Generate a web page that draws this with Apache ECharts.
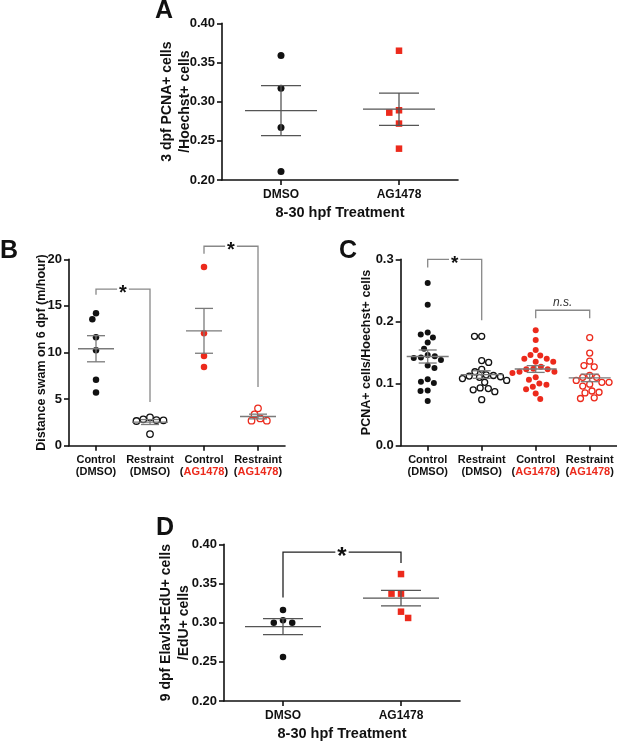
<!DOCTYPE html>
<html lang="en">
<head>
<meta charset="UTF-8">
<title>Swim distance and proliferation</title>
<script src="https://cdn.jsdelivr.net/npm/echarts@6.0.0/dist/echarts.min.js"></script>
<style>
  html, body { margin: 0; padding: 0; background: #fff; }
  #chart { width: 617px; height: 743px; }
</style>
</head>
<body>
<div id="chart"></div>
<script>
// panel A: 3 dpf PCNA+/Hoechst+
var aCats = ['DMSO', 'AG1478'];
var aDmso = [0.359, 0.317, 0.267, 0.211];
var aAg = [0.365, 0.286, 0.289, 0.272, 0.240];

// panel B: distance swam on 6 dpf
var bCats = ['Control (DMSO)', 'Restraint (DMSO)', 'Control (AG1478)', 'Restraint (AG1478)'];
var bCtrlDmso = [14.2, 13.56, 11.63, 10.23, 7.08, 5.72];
var bResDmso = [2.83, 2.72, 2.65, 2.75, 3.04, 1.25];
var bCtrlAg = [19.18, 12.06, 9.62, 8.44];
var bResAg = [2.93, 2.68, 4.01, 2.68, 3.36];
var bBrackets = [[0, 1, 16.8, 16.2, 4.7, '*'], [2, 3, 21.4, 20.6, 6.3, '*']];

// panel C: PCNA+/Hoechst+
var cCats = bCats;
var cCtrlDmso = [0.262, 0.227, 0.182, 0.174, 0.179, 0.166, 0.156, 0.144, 0.141, 0.142,
                 0.138, 0.146, 0.129, 0.125, 0.103, 0.107, 0.101, 0.089, 0.088, 0.072];
var cResDmso = [0.176, 0.176, 0.134, 0.137, 0.123, 0.119, 0.112, 0.110, 0.108, 0.111,
                0.113, 0.114, 0.102, 0.105, 0.092, 0.090, 0.093, 0.087, 0.074];
var cCtrlAg = [0.186, 0.170, 0.154, 0.145, 0.146, 0.140, 0.135, 0.135, 0.140, 0.127, 0.124, 0.123,
               0.119, 0.117, 0.119, 0.123, 0.110, 0.106, 0.100, 0.095, 0.098, 0.091, 0.084, 0.075];
var cResAg = [0.174, 0.149, 0.136, 0.127, 0.129, 0.110, 0.113, 0.110, 0.102,
              0.099, 0.096, 0.102, 0.105, 0.088, 0.085, 0.086, 0.076, 0.077];
var cBrackets = [[0, 1, 0.300, 0.287, 0.202, '*'], [2, 3, 0.218, 0.205, 0.205, 'n.s.']];

// panel D: 9 dpf Elavl3+EdU+/EdU+
var dCats = aCats;
var dDmso = [0.316, 0.300, 0.300, 0.303, 0.256];
var dAg = [0.362, 0.337, 0.337, 0.306, 0.314];
var dBrackets = [[0, 1, 0.390, 0.332, 0.376, '*']];

var FONT = '"Liberation Sans", Arial, Helvetica, sans-serif';
var INK = '#111';
var RED = '#ec2a1c';

function mean(v) {
    var s = 0;
    for (var i = 0; i < v.length; i++) s += v[i];
    return s / v.length;
}
function sem(v) {
    var m = mean(v), s = 0;
    for (var i = 0; i < v.length; i++) s += (v[i] - m) * (v[i] - m);
    return Math.sqrt(s / (v.length - 1)) / Math.sqrt(v.length);
}

// one entry per group of dots
var groups = [
    {g: 0, cat: 0, vals: aDmso, symbol: 'circle', size: 7, fill: INK, stroke: INK},
    {g: 0, cat: 1, vals: aAg, symbol: 'rect', size: 6.5, fill: RED, stroke: RED},
    {g: 1, cat: 0, vals: bCtrlDmso, symbol: 'circle', size: 6.5, fill: INK, stroke: INK},
    {g: 1, cat: 1, vals: bResDmso, symbol: 'circle', size: 6.5, fill: '#fff', stroke: INK, open: true},
    {g: 1, cat: 2, vals: bCtrlAg, symbol: 'circle', size: 6.5, fill: RED, stroke: RED},
    {g: 1, cat: 3, vals: bResAg, symbol: 'circle', size: 6.5, fill: '#fff', stroke: RED, open: true},
    {g: 2, cat: 0, vals: cCtrlDmso, symbol: 'circle', size: 6, fill: INK, stroke: INK},
    {g: 2, cat: 1, vals: cResDmso, symbol: 'circle', size: 6, fill: '#fff', stroke: INK, open: true},
    {g: 2, cat: 2, vals: cCtrlAg, symbol: 'circle', size: 6, fill: RED, stroke: RED},
    {g: 2, cat: 3, vals: cResAg, symbol: 'circle', size: 6, fill: '#fff', stroke: RED, open: true},
    {g: 3, cat: 0, vals: dDmso, symbol: 'circle', size: 6.5, fill: INK, stroke: INK},
    {g: 3, cat: 1, vals: dAg, symbol: 'rect', size: 6.5, fill: RED, stroke: RED}
];

// per panel: swarm spacing, mean bar width, SEM cap width, bar colour
var panelStyle = [
    {gap: 10, meanW: 72, capW: 40, line: '#555'},
    {gap: 7, meanW: 36, capW: 18, line: '#7a7a7a'},
    {gap: 7.2, meanW: 42, capW: 18, line: '#7a7a7a'},
    {gap: 9.5, meanW: 76, capW: 40, line: '#555'}
];

var grids = [
    {left: 222, top: 23.3, width: 236, height: 156.7},
    {left: 69, top: 259.3, width: 216, height: 186.4},
    {left: 400.7, top: 259.3, width: 216, height: 186.4},
    {left: 224, top: 544.3, width: 236, height: 156.7}
];
grids.forEach(function (g) { g.containLabel = false; g.outerBoundsMode = 'none'; });

var tickLabel = {fontFamily: FONT, fontWeight: 'bold', fontSize: 13, color: INK, margin: 7};
var axisLine = {show: true, lineStyle: {color: INK, width: 1.6}};
var axisTick = {show: true, length: 5, lineStyle: {color: INK, width: 1.6}};

function yAxis(i, min, max, step, digits, name, gap, size, lh) {
    return {
        type: 'value', gridIndex: i, min: min, max: max, interval: step,
        axisLine: axisLine, axisTick: axisTick, splitLine: {show: false},
        axisLabel: Object.assign({formatter: function (v) { return v.toFixed(digits); }}, tickLabel),
        name: name, nameLocation: 'middle', nameGap: gap, nameMoveOverlap: false,
        nameTextStyle: {fontFamily: FONT, fontWeight: 'bold', fontSize: size, lineHeight: lh, color: INK}
    };
}

var twoLineRich = {
    t: {fontFamily: FONT, fontWeight: 'bold', fontSize: 11, lineHeight: 12.5, color: INK},
    r: {fontFamily: FONT, fontWeight: 'bold', fontSize: 11, lineHeight: 12.5, color: RED}
};
function twoLine(v) {
    var parts = v.split(' ');
    var inner = parts[1].slice(1, -1);
    return '{t|' + parts[0] + '}\n{t|(}{' + (inner === 'AG1478' ? 'r' : 't') + '|' + inner + '}{t|)}';
}

function xAxis(i, cats, withName, twoRow) {
    var ax = {
        type: 'category', gridIndex: i, data: cats,
        axisLine: axisLine, axisTick: Object.assign({alignWithLabel: true}, axisTick),
        splitLine: {show: false},
        axisLabel: {fontFamily: FONT, fontWeight: 'bold', fontSize: 12, color: INK, margin: 9, interval: 0}
    };
    if (twoRow) {
        ax.axisLabel = {formatter: twoLine, rich: twoLineRich, margin: 8, interval: 0};
    }
    if (withName) {
        ax.name = '8-30 hpf Treatment';
        ax.nameLocation = 'middle';
        ax.nameGap = 25;
        ax.nameMoveOverlap = false;
        ax.nameTextStyle = {fontFamily: FONT, fontWeight: 'bold', fontSize: 14.5, color: INK};
    }
    return ax;
}

var xAxes = [
    xAxis(0, aCats, true, false),
    xAxis(1, bCats, false, true),
    xAxis(2, cCats, false, true),
    xAxis(3, dCats, true, false)
];
var yAxes = [
    yAxis(0, 0.2, 0.4, 0.05, 2, '3 dpf PCNA+ cells\n/Hoechst+ cells', 28, 14, 18),
    yAxis(1, 0, 20, 5, 0, 'Distance swam on 6 dpf (m/hour)', 20, 12.5, 15),
    yAxis(2, 0, 0.3, 0.1, 1, 'PCNA+ cells/Hoechst+ cells', 27, 12.5, 15),
    yAxis(3, 0.2, 0.4, 0.05, 2, '9 dpf Elavl3+EdU+ cells\n/EdU+ cells', 31, 14, 18)
];

var series = [];
groups.forEach(function (gr) {
    series.push({
        type: 'scatter', xAxisIndex: gr.g, yAxisIndex: gr.g, silent: true, z: 3,
        symbol: gr.symbol, symbolSize: gr.size,
        itemStyle: {color: gr.fill, borderColor: gr.stroke, borderWidth: gr.open ? 1.3 : 0, opacity: 1},
        data: gr.vals.map(function (v) { return [gr.cat, v]; })
    });
});

// mean and SEM bars
[0, 1, 2, 3].forEach(function (p) {
    var st = panelStyle[p];
    var rows = groups.filter(function (gr) { return gr.g === p; }).map(function (gr) {
        var m = mean(gr.vals), s = sem(gr.vals);
        return [gr.cat, m, m - s, m + s];
    });
    series.push({
        type: 'custom', xAxisIndex: p, yAxisIndex: p, silent: true, z: 4, data: rows,
        renderItem: function (params, api) {
            var c = api.value(0);
            var pm = api.coord([c, api.value(1)]);
            var lo = api.coord([c, api.value(2)]);
            var hi = api.coord([c, api.value(3)]);
            var x = pm[0];
            var ls = {stroke: st.line, lineWidth: 1.3, fill: null};
            return {type: 'group', children: [
                {type: 'line', shape: {x1: x - st.meanW / 2, y1: pm[1], x2: x + st.meanW / 2, y2: pm[1]}, style: ls},
                {type: 'line', shape: {x1: x, y1: lo[1], x2: x, y2: hi[1]}, style: ls},
                {type: 'line', shape: {x1: x - st.capW / 2, y1: lo[1], x2: x + st.capW / 2, y2: lo[1]}, style: ls},
                {type: 'line', shape: {x1: x - st.capW / 2, y1: hi[1], x2: x + st.capW / 2, y2: hi[1]}, style: ls}
            ]};
        }
    });
});

// significance brackets
function bracketSeries(p, list, color, starSize) {
    return {
        type: 'custom', xAxisIndex: p, yAxisIndex: p, silent: true, z: 5, clip: false,
        data: list.map(function (b) { return [b[0], b[1], b[2], b[3], b[4]]; }),
        renderItem: function (params, api) {
            var b = list[params.dataIndex];
            var l = api.coord([b[0], b[3]]);
            var tl = api.coord([b[0], b[2]]);
            var tr = api.coord([b[1], b[2]]);
            var r = api.coord([b[1], b[4]]);
            var cx = (tl[0] + tr[0]) / 2;
            var label;
            if (b[5] === '*') {
                label = {type: 'text', x: cx, y: tl[1] + starSize * 0.22, style: {
                    text: '*', font: 'bold ' + starSize + 'px ' + FONT, fill: INK,
                    align: 'center', verticalAlign: 'middle', backgroundColor: '#fff', padding: [0, 2]
                }};
            } else {
                label = {type: 'text', x: cx, y: tl[1] - 8, style: {
                    text: b[5], font: 'italic 12px ' + FONT, fill: '#333',
                    align: 'center', verticalAlign: 'middle'
                }};
            }
            return {type: 'group', children: [
                {type: 'polyline', shape: {points: [l, tl, tr, r]}, style: {stroke: color, lineWidth: 1.3, fill: null}},
                label
            ]};
        }
    };
}
series.push(bracketSeries(1, bBrackets, '#888', 20));
series.push(bracketSeries(2, cBrackets, '#888', 19));
series.push(bracketSeries(3, dBrackets, '#222', 24));

function letter(t, x, y) {
    return {type: 'text', left: x, top: y, style: {text: t, font: 'bold 25px ' + FONT, fill: INK}};
}

var chart = echarts.init(document.getElementById('chart'), null, {renderer: 'canvas'});
var option = {
    animation: false,
    backgroundColor: '#fff',
    grid: grids,
    xAxis: xAxes,
    yAxis: yAxes,
    series: series,
    graphic: [letter('A', 155, -1), letter('B', 0, 239), letter('C', 339, 239), letter('D', 156, 516)]
};
chart.setOption(option);

// beeswarm spread of the dots, computed from the pixel scale
function swarm(ys, d) {
    var order = ys.map(function (y, i) { return i; }).sort(function (a, b) { return ys[a] - ys[b]; });
    var placed = [], off = [], flip = 1;
    order.forEach(function (i) {
        var y = ys[i], blocks = [];
        placed.forEach(function (p) {
            var dy = Math.abs(p.y - y);
            if (dy < d) {
                var w = Math.sqrt(d * d - dy * dy);
                blocks.push([p.x - w, p.x + w]);
            }
        });
        var cands = [0];
        blocks.forEach(function (b) { cands.push(b[0], b[1]); });
        var ok = cands.filter(function (c) {
            return blocks.every(function (b) { return c <= b[0] + 1e-6 || c >= b[1] - 1e-6; });
        });
        ok.sort(function (a, b) { return (Math.abs(a) - Math.abs(b)) || (a - b) * flip; });
        var x = ok[0];
        if (Math.abs(x) > 1e-6) flip = -flip;
        off[i] = x;
        placed.push({x: x, y: y});
    });
    return off;
}

var swarmed = groups.map(function (gr) {
    var ys = gr.vals.map(function (v) {
        return chart.convertToPixel({gridIndex: gr.g}, [gr.cat, v])[1];
    });
    var off = swarm(ys, panelStyle[gr.g].gap);
    return {data: gr.vals.map(function (v, i) {
        return {value: [gr.cat, v], symbolOffset: [off[i], 0]};
    })};
});
chart.setOption({series: swarmed});
</script>
</body>
</html>
